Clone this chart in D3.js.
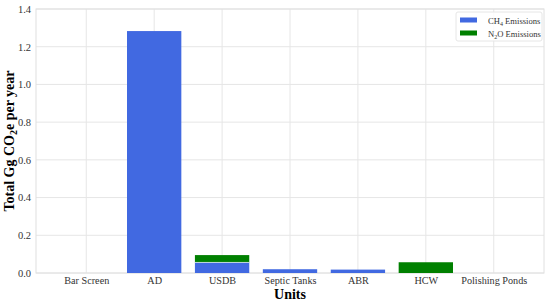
<!DOCTYPE html>
<html lang="en">
<head>
  <meta charset="UTF-8" />
  <title>Emissions by unit</title>
  <style>
    body { margin: 0; background: #fff; }
    svg { display: block; font-family: "Liberation Serif", "DejaVu Serif", serif; }
    svg text { font-family: "Liberation Serif", "DejaVu Serif", serif; }
  </style>
</head>
<body>
  <svg id="chart" width="550" height="303"></svg>

  <script src="https://d3js.org/d3.v7.min.js"></script>
  <script>
    const units = ["Bar Screen", "AD", "USDB", "Septic Tanks", "ABR", "HCW", "Polishing Ponds"];
    const ch4 = [0, 1.283, 0.056, 0.02, 0.018, 0, 0];
    const n2o = [0, 0, 0.039, 0, 0, 0.057, 0];
    const yTicks = [0, 0.2, 0.4, 0.6, 0.8, 1.0, 1.2, 1.4];

    const W = 550, H = 303;
    const m = { top: 9, right: 6, bottom: 30, left: 36 };
    const svg = d3.select("#chart");

    // matplotlib-like: bars of width .8 at 0..6, 5% margin
    const x = d3.scaleLinear().domain([-0.74, units.length - 1 + 0.74]).range([m.left, W - m.right]);
    const y = d3.scaleLinear().domain([0, 1.4]).range([H - m.bottom, m.top]);
    const bw = x(0.8) - x(0);

    const grid = svg.append("g").attr("stroke", "#e6e6e6").attr("stroke-width", 1);
    grid.selectAll("line.h").data(yTicks).join("line")
      .attr("x1", m.left).attr("x2", W - m.right)
      .attr("y1", d => y(d)).attr("y2", d => y(d));
    grid.selectAll("line.v").data(units).join("line")
      .attr("y1", m.top).attr("y2", H - m.bottom)
      .attr("x1", (d, i) => x(i)).attr("x2", (d, i) => x(i));

    svg.append("rect")
      .attr("x", m.left).attr("y", m.top)
      .attr("width", W - m.right - m.left).attr("height", H - m.bottom - m.top)
      .attr("fill", "none").attr("stroke", "#e0e0e0");

    const bars = svg.append("g");
    bars.selectAll("rect.ch4").data(ch4).join("rect")
      .attr("x", (d, i) => x(i) - bw / 2).attr("width", bw)
      .attr("y", d => y(d)).attr("height", d => y(0) - y(d))
      .attr("fill", "#4169e1");
    bars.selectAll("rect.n2o").data(n2o).join("rect")
      .attr("x", (d, i) => x(i) - bw / 2).attr("width", bw)
      .attr("y", (d, i) => y(d + ch4[i])).attr("height", (d, i) => y(ch4[i]) - y(d + ch4[i]))
      .attr("fill", "#008000");
    // thin light seam between stacked parts
    bars.selectAll("line.seam").data(units.filter((u, i) => ch4[i] > 0 && n2o[i] > 0)).join("line")
      .attr("x1", u => x(units.indexOf(u)) - bw / 2).attr("x2", u => x(units.indexOf(u)) + bw / 2)
      .attr("y1", u => y(ch4[units.indexOf(u)])).attr("y2", u => y(ch4[units.indexOf(u)]))
      .attr("stroke", "#dfe6f7").attr("stroke-width", 0.8);

    const yAxis = svg.append("g").attr("transform", `translate(${m.left},0)`)
      .call(d3.axisLeft(y).tickValues(yTicks).tickFormat(d3.format(".1f")).tickSize(0).tickPadding(5));
    yAxis.select(".domain").remove();
    yAxis.attr("font-family", null);
    yAxis.selectAll("text").style("font-size", "10.5px").attr("fill", "#333");

    const xAxis = svg.append("g").attr("transform", `translate(0,${H - m.bottom})`)
      .call(d3.axisBottom(x).tickValues(d3.range(units.length)).tickFormat(i => units[i]).tickSize(0).tickPadding(4));
    xAxis.select(".domain").remove();
    xAxis.attr("font-family", null);
    xAxis.selectAll("text").style("font-size", "10.2px").attr("fill", "#333");

    svg.append("text")
      .attr("x", (m.left + W - m.right) / 2).attr("y", 299)
      .attr("text-anchor", "middle").style("font-size", "14px").attr("font-weight", "bold")
      .text("Units");

    const yl = svg.append("text")
      .attr("transform", `translate(14,${(m.top + H - m.bottom) / 2}) rotate(-90)`)
      .attr("text-anchor", "middle").style("font-size", "14px").attr("font-weight", "bold");
    yl.append("tspan").text("Total Gg CO");
    yl.append("tspan").style("font-size", "10px").attr("dy", 3).text("2");
    yl.append("tspan").attr("dy", -3).text("e per year");

    const legend = svg.append("g").attr("transform", "translate(456,12)");
    legend.append("rect").attr("width", 86).attr("height", 29).attr("rx", 2)
      .attr("fill", "#fff").attr("fill-opacity", 0.85).attr("stroke", "#e6e6e6");
    const items = [
      { name: ["CH", "4", " Emissions"], color: "#4169e1" },
      { name: ["N", "2", "O Emissions"], color: "#008000" }
    ];
    items.forEach((it, i) => {
      const g = legend.append("g").attr("transform", `translate(4,${8 + i * 13})`);
      g.append("rect").attr("y", -2.5).attr("width", 17).attr("height", 5).attr("fill", it.color);
      const t = g.append("text").attr("x", 28).attr("y", 3.5).style("font-size", "8.6px").attr("fill", "#333");
      t.append("tspan").text(it.name[0]);
      t.append("tspan").style("font-size", "6px").attr("dy", 2).text(it.name[1]);
      t.append("tspan").attr("dy", -2).text(it.name[2]);
    });
  </script>
</body>
</html>
